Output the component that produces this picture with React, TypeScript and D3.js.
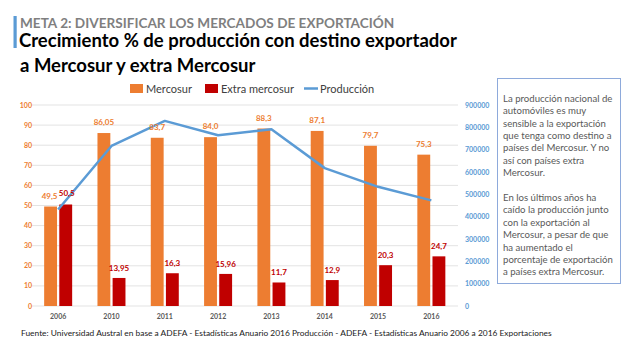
import React from "react";
import { scaleBand, scaleLinear, line, range } from "d3";

const years = ["2006", "2010", "2011", "2012", "2013", "2014", "2015", "2016"];
const mercosur = [49.5, 86.05, 83.7, 84.0, 88.3, 87.1, 79.7, 75.3];
const mercosurLabels = ["49,5", "86,05", "83,7", "84,0", "88,3", "87,1", "79,7", "75,3"];
const extra = [50.5, 13.95, 16.3, 15.96, 11.7, 12.9, 20.3, 24.7];
const extraLabels = ["50,5", "13,95", "16,3", "15,96", "11,7", "12,9", "20,3", "24,7"];
const produccion = [432101, 716540, 828771, 764495, 791007, 617329, 533683, 472776];
const leftTicks = range(0, 101, 10);
const rightTicks = range(0, 900001, 100000);

const boxLines = [
  "La producción nacional de",
  "automóviles es muy",
  "sensible a la exportación",
  "que tenga como destino a",
  "países del Mercosur. Y no",
  "así con países extra",
  "Mercosur.",
  "",
  "En los últimos años ha",
  "caído la producción junto",
  "con la exportación al",
  "Mercosur, a pesar de que",
  "ha aumentado el",
  "porcentaje de exportación",
  "a países extra Mercosur.",
];

const ORANGE = "#ed7d31";
const RED = "#c00000";
const BLUE = "#5b9bd5";
const FONT = "Lato, 'Open Sans', sans-serif";

export default function App() {
  const x = scaleBand<string>().domain(years).range([31.5, 458]);
  const sub = scaleBand<string>()
    .domain(["m", "e"])
    .range([x.bandwidth() / 2 - 14, x.bandwidth() / 2 + 14])
    .paddingInner(0.15);
  const yL = scaleLinear().domain([0, 100]).range([306, 105]);
  const yR = scaleLinear().domain([0, 900000]).range([306, 105]);
  const cx = (y: string) => (x(y) as number) + x.bandwidth() / 2;

  const prodLine = line<number>()
    .x((_, i) => cx(years[i]))
    .y((d) => yR(d));

  return (
    <svg
      width={630}
      height={353}
      style={{ position: "absolute", left: 0, top: 0, background: "#fff" }}
      fontFamily={FONT}
    >
      {/* header */}
      <rect x={13.5} y={16} width={3.2} height={32} fill={BLUE} />
      <text x={20} y={28.3} fontSize={13.6} fontWeight={700} fill="#7f7f7f">
        META 2: DIVERSIFICAR LOS MERCADOS DE EXPORTACIÓN
      </text>
      <text x={19} y={46.7} fontSize={18.5} fontWeight={700} fill="#000">
        Crecimiento % de producción con destino exportador
      </text>
      <text x={20} y={71.7} fontSize={18.5} fontWeight={700} fill="#000">
        a Mercosur y extra Mercosur
      </text>

      {/* legend */}
      <rect x={130} y={84} width={13} height={9} fill={ORANGE} />
      <text x={146} y={92.5} fontSize={11} fill="#404040">Mercosur</text>
      <rect x={205} y={84} width={13} height={9} fill={RED} />
      <text x={221} y={92.5} fontSize={11} fill="#404040">Extra mercosur</text>
      <line x1={304} x2={318} y1={88.5} y2={88.5} stroke={BLUE} strokeWidth={2.5} />
      <text x={320} y={92.5} fontSize={11} fill="#404040">Producción</text>

      {/* grid + left axis */}
      {leftTicks.map((t) => (
        <g key={t}>
          <line x1={31.5} x2={458} y1={yL(t)} y2={yL(t)} stroke="#e3e3e3" strokeWidth={1} />
          <text x={32} y={yL(t) + 2.5} fontSize={7} fontWeight={700} fill={ORANGE} textAnchor="end">
            {t}
          </text>
        </g>
      ))}
      {/* right axis */}
      {rightTicks.map((t) => (
        <text key={t} x={465} y={yR(t) + 2.5} fontSize={7} fontWeight={700} fill={BLUE}>
          {t}
        </text>
      ))}

      {/* bars */}
      {years.map((yr, i) => {
        const bx = x(yr) as number;
        const mx = bx + (sub("m") as number);
        const ex = bx + (sub("e") as number);
        return (
          <g key={yr}>
            <rect x={mx} y={yL(mercosur[i])} width={sub.bandwidth()} height={yL(0) - yL(mercosur[i])} fill={ORANGE} />
            <rect x={ex} y={yL(extra[i])} width={sub.bandwidth()} height={yL(0) - yL(extra[i])} fill={RED} />
            <text x={cx(yr)} y={319} fontSize={7} fontWeight={700} fill="#595959" textAnchor="middle">
              {yr}
            </text>
          </g>
        );
      })}

      {/* production line */}
      <path d={prodLine(produccion) || ""} fill="none" stroke={BLUE} strokeWidth={2.5} strokeLinejoin="round" />

      {/* value labels */}
      {years.map((yr, i) => {
        const bx = x(yr) as number;
        const mx = bx + (sub("m") as number) + sub.bandwidth() / 2;
        const ex = bx + (sub("e") as number) + sub.bandwidth() / 2;
        return (
          <g key={"l" + yr} fontSize={8} fontWeight={700} textAnchor="middle">
            <text x={i === 0 ? mx - 1 : mx} y={yL(mercosur[i]) - 8} fill={ORANGE}>
              {mercosurLabels[i]}
            </text>
            <text x={i === 0 ? ex + 1 : ex} y={yL(extra[i]) - (i === 0 ? 8 : 7)} fill={RED}>
              {extraLabels[i]}
            </text>
          </g>
        );
      })}

      {/* text box */}
      <rect x={497.5} y={78.5} width={123} height={205} fill="#fff" stroke="#8eaadb" strokeWidth={1} />
      {boxLines.map((l, i) => (
        <text key={i} x={503} y={101.8 + i * 12.4} fontSize={9.6} fill="#595959">
          {l}
        </text>
      ))}

      {/* footer */}
      <text x={21} y={336} fontSize={8.4} fill="#1a1a1a">
        Fuente: Universidad Austral en base a ADEFA - Estadísticas Anuario 2016 Producción - ADEFA - Estadísticas Anuario 2006 a 2016 Exportaciones
      </text>
    </svg>
  );
}
